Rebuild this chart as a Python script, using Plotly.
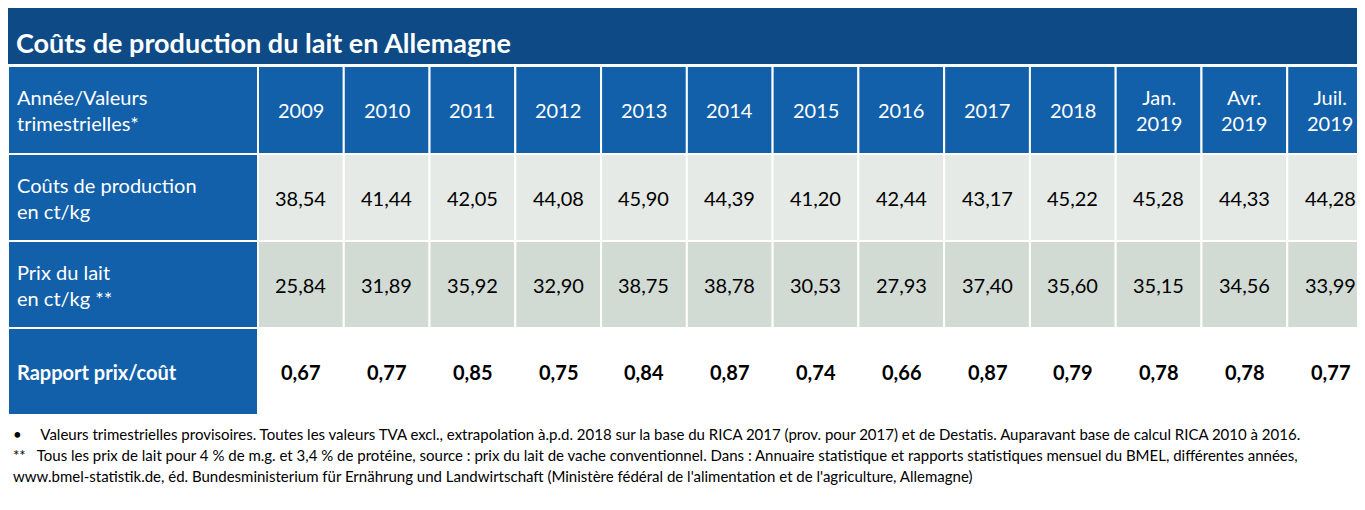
import plotly.graph_objects as go

title = "Coûts de production du lait en Allemagne"
periods = ["2009", "2010", "2011", "2012", "2013", "2014", "2015", "2016", "2017", "2018",
           "Jan.<br>2019", "Avr.<br>2019", "Juil.<br>2019"]
header_label = "Année/Valeurs<br>trimestrielles*"
row_labels = ["Coûts de production<br>en ct/kg", "Prix du lait<br>en ct/kg **", "<b>Rapport prix/coût</b>"]
costs = ["38,54", "41,44", "42,05", "44,08", "45,90", "44,39", "41,20", "42,44", "43,17", "45,22", "45,28", "44,33", "44,28"]
milk_price = ["25,84", "31,89", "35,92", "32,90", "38,75", "38,78", "30,53", "27,93", "37,40", "35,60", "35,15", "34,56", "33,99"]
ratio = ["0,67", "0,77", "0,85", "0,75", "0,84", "0,87", "0,74", "0,66", "0,87", "0,79", "0,78", "0,78", "0,77"]
footnotes = [
    "•     Valeurs trimestrielles provisoires. Toutes les valeurs TVA excl., extrapolation à.p.d. 2018 sur la base du RICA 2017 (prov. pour 2017) et de Destatis. Auparavant base de calcul RICA 2010 à 2016.",
    "**   Tous les prix de lait pour 4 % de m.g. et 3,4 % de protéine, source : prix du lait de vache conventionnel. Dans : Annuaire statistique et rapports statistiques mensuel du BMEL, différentes années,",
    "www.bmel-statistik.de, éd. Bundesministerium für Ernährung und Landwirtschaft (Ministère fédéral de l'alimentation et de l'agriculture, Allemagne)",
]

W, H = 1365, 510
blue = "#1260aa"
font = "Lato"
first_w = 250
col_w = (W - first_w) / len(periods)
row_edges = [58, 146, 233, 320, 407]
row_fills = ["#e5eae6", "#d2dad4", "#ffffff"]
rows = [costs, milk_price, ["<b>%s</b>" % r for r in ratio]]

fig = go.Figure()
px = lambda v: v / W
py = lambda v: 1 - v / H


def cell(x0, x1, y0, y1, fill, text, color, align="center"):
    fig.add_shape(type="rect", xref="paper", yref="paper", x0=px(x0), x1=px(x1), y0=py(y1), y1=py(y0),
                  fillcolor=fill, line=dict(color="white", width=2))
    if align == "left":
        x, anchor = px(x0 + 7), "left"
    else:
        x, anchor = px((x0 + x1) / 2), "center"
    fig.add_annotation(text=text, xref="paper", yref="paper", x=x, y=py((y0 + y1) / 2),
                       xanchor=anchor, yanchor="middle", align=align, showarrow=False,
                       font=dict(family=font, size=20, color=color))


fig.add_shape(type="rect", xref="paper", yref="paper", x0=0, x1=1, y0=py(56), y1=1,
              fillcolor="#0d4a86", line_width=0)
fig.add_annotation(text="<b>%s</b>" % title, xref="paper", yref="paper", x=px(6), y=py(35),
                   xanchor="left", yanchor="middle", showarrow=False,
                   font=dict(family=font, size=27, color="white"))

# header row
cell(0, first_w, row_edges[0], row_edges[1], blue, header_label, "white", "left")
for j, p in enumerate(periods):
    x0 = first_w + j * col_w
    cell(x0, x0 + col_w, row_edges[0], row_edges[1], blue, p, "white")

# data rows
for i, (lab, vals) in enumerate(zip(row_labels, rows)):
    y0, y1 = row_edges[i + 1], row_edges[i + 2]
    cell(0, first_w, y0, y1, blue, lab, "white", "left")
    for j, v in enumerate(vals):
        x0 = first_w + j * col_w
        cell(x0, x0 + col_w, y0, y1, row_fills[i], v, "black")

for i, t in enumerate(footnotes):
    fig.add_annotation(text=t, xref="paper", yref="paper", x=px(3), y=py(426 + 21 * i),
                       xanchor="left", yanchor="middle", showarrow=False,
                       font=dict(family=font, size=15, color="black"))

fig.update_xaxes(visible=False)
fig.update_yaxes(visible=False)
fig.update_layout(width=W, height=H, margin=dict(l=0, r=0, t=0, b=0),
                  paper_bgcolor="white", plot_bgcolor="white")
fig.write_html("out.html")
